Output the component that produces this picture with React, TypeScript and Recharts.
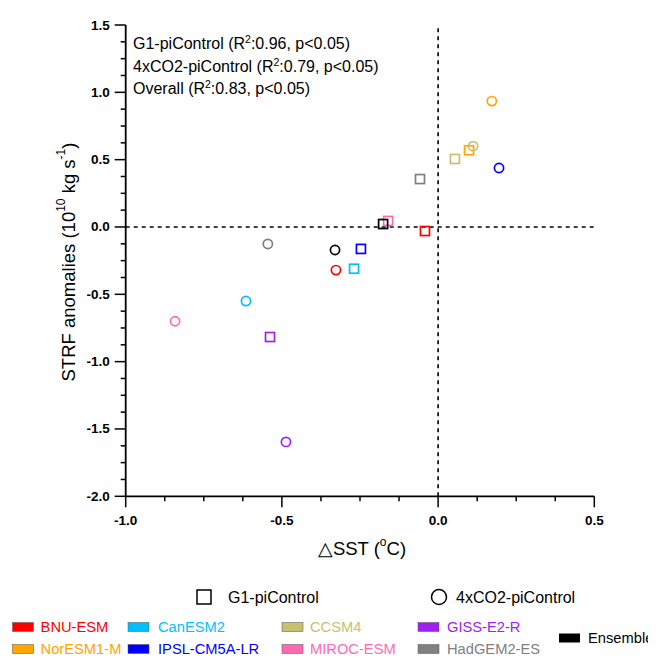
import React from "react";
import { ScatterChart, Scatter, XAxis, YAxis, ReferenceLine } from "recharts";

const models = ["BNU-ESM", "CanESM2", "CCSM4", "GISS-E2-R", "NorESM1-M", "IPSL-CM5A-LR", "MIROC-ESM", "HadGEM2-ES", "Ensemble"];
const colors = ["#ff0000", "#00bfff", "#c8c070", "#a020f0", "#ffa500", "#0000ff", "#ff69b4", "#808080", "#000000"];

// G1-piControl (squares)
const g1Sst = [-0.042, -0.269, 0.054, -0.538, 0.099, -0.247, -0.16, -0.058, -0.176];
const g1Strf = [-0.03, -0.31, 0.505, -0.817, 0.57, -0.163, 0.045, 0.356, 0.022];
// 4xCO2-piControl (circles)
const co2Sst = [-0.327, -0.615, 0.112, -0.487, 0.172, 0.195, -0.842, -0.545, -0.33];
const co2Strf = [-0.32, -0.55, 0.6, -1.596, 0.935, 0.438, -0.7, -0.126, -0.171];

const xTicks = [-1.0, -0.875, -0.75, -0.625, -0.5, -0.375, -0.25, -0.125, 0.0, 0.125, 0.25, 0.375, 0.5];
const yTicks = [
  1.5, 1.375, 1.25, 1.125, 1.0, 0.875, 0.75, 0.625, 0.5, 0.375, 0.25, 0.125, 0.0,
  -0.125, -0.25, -0.375, -0.5, -0.625, -0.75, -0.875, -1.0, -1.125, -1.25, -1.375,
  -1.5, -1.625, -1.75, -1.875, -2.0,
];

const statLabels = ["G1-piControl", "4xCO2-piControl", "Overall"];
const statR2 = ["0.96", "0.79", "0.83"];

const legendRow1 = [0, 1, 2, 3];
const legendRow2 = [4, 5, 6, 7];

const FONT = "Liberation Sans, Arial, Helvetica, sans-serif";
const W = 640;
const H = 651;

const g1Data = models.map((m, i) => ({ x: g1Sst[i], y: g1Strf[i], color: colors[i], name: m }));
const co2Data = models.map((m, i) => ({ x: co2Sst[i], y: co2Strf[i], color: colors[i], name: m }));

const isMajor = (v: number) => Math.abs(v * 2 - Math.round(v * 2)) < 1e-6;
const lab = (v: number) => v.toFixed(1);

function BottomTick(p: any) {
  const v = p.payload.value;
  const m = isMajor(v);
  return (
    <g>
      <line x1={p.x} x2={p.x} y1={p.y} y2={p.y + (m ? 11 : 5)} stroke="#000" strokeWidth={1.5} />
      {m && (
        <text x={p.x} y={p.y + 24} textAnchor="middle" dominantBaseline="central"
          fontFamily={FONT} fontSize={13.5} fontWeight="bold" fill="#000">{lab(v)}</text>
      )}
    </g>
  );
}

function TopTick(p: any) {
  const m = isMajor(p.payload.value);
  return <line x1={p.x} x2={p.x} y1={p.y} y2={p.y - (m ? 11 : 5)} stroke="#000" strokeWidth={1.5} />;
}

function LeftTick(p: any) {
  const v = p.payload.value;
  const m = isMajor(v);
  return (
    <g>
      <line x1={p.x} x2={p.x - (m ? 11 : 5)} y1={p.y} y2={p.y} stroke="#000" strokeWidth={1.5} />
      {m && (
        <text x={p.x - 16} y={p.y} textAnchor="end" dominantBaseline="central"
          fontFamily={FONT} fontSize={13.5} fontWeight="bold" fill="#000">{lab(v)}</text>
      )}
    </g>
  );
}

function RightTick(p: any) {
  const m = isMajor(p.payload.value);
  return <line x1={p.x} x2={p.x + (m ? 11 : 5)} y1={p.y} y2={p.y} stroke="#000" strokeWidth={1.5} />;
}

const square = (p: any) => (
  <rect x={p.cx - 4.5} y={p.cy - 4.5} width={9} height={9} fill="none" stroke={p.payload.color} strokeWidth={1.7} />
);
const circle = (p: any) => (
  <circle cx={p.cx} cy={p.cy} r={4.6} fill="none" stroke={p.payload.color} strokeWidth={1.7} />
);

export default function App() {
  const axisLine = { stroke: "#000", strokeWidth: 1.8 };
  return (
    <div style={{ position: "relative", width: W, height: H, fontFamily: FONT }}>
      <ScatterChart width={W} height={560} margin={{ top: 17, right: 53.7, left: 57.7, bottom: 31.7 }}>
        <XAxis xAxisId="b" type="number" dataKey="x" domain={[-1, 0.5]} ticks={xTicks} interval={0}
          height={40} tickSize={0} tickMargin={0} tickLine={false} axisLine={axisLine} tick={<BottomTick />} />
        <XAxis xAxisId="t" orientation="top" type="number" dataKey="x" domain={[-1, 0.5]} ticks={xTicks} interval={0}
          height={0} tickSize={0} tickMargin={0} tickLine={false} axisLine={axisLine} tick={<TopTick />} />
        <YAxis yAxisId="l" type="number" dataKey="y" domain={[-2, 1.5]} ticks={yTicks} interval={0}
          width={60} tickSize={0} tickMargin={0} tickLine={false} axisLine={axisLine} tick={<LeftTick />} />
        <YAxis yAxisId="r" orientation="right" type="number" dataKey="y" domain={[-2, 1.5]} ticks={yTicks} interval={0}
          width={0} tickSize={0} tickMargin={0} tickLine={false} axisLine={axisLine} tick={<RightTick />} />
        <ReferenceLine xAxisId="b" yAxisId="l" x={0} stroke="#000" strokeWidth={1.6} strokeDasharray="4 4" />
        <ReferenceLine xAxisId="b" yAxisId="l" y={0} stroke="#000" strokeWidth={1.6} strokeDasharray="4 4" />
        <Scatter xAxisId="b" yAxisId="l" data={g1Data} shape={square} isAnimationActive={false} />
        <Scatter xAxisId="b" yAxisId="l" data={co2Data} shape={circle} isAnimationActive={false} />
      </ScatterChart>

      <svg width={W} height={H} style={{ position: "absolute", left: 0, top: 0, pointerEvents: "none", overflow: "visible" }}
        fontFamily={FONT}>
        {statLabels.map((s, i) => (
          <text key={s} x={125} y={41 + i * 22.5} fontSize={16} fill="#000">
            {s} (R<tspan dy={-6} fontSize={10.5}>2</tspan><tspan dy={6}>:{statR2[i]}, p&lt;0.05)</tspan>
          </text>
        ))}

        <text x={354} y={540} textAnchor="middle" dominantBaseline="central" fontSize={18.5} fill="#000">
          △SST (<tspan dy={-6} fontSize={12}>o</tspan><tspan dy={6}>C)</tspan>
        </text>
        <text transform="translate(60,254) rotate(-90)" textAnchor="middle" dominantBaseline="central"
          fontSize={18.5} fill="#000">
          STRF anomalies (10<tspan dy={-7} fontSize={12}>10</tspan><tspan dy={7}> kg s</tspan>
          <tspan dy={-7} fontSize={12}>-1</tspan><tspan dy={7}>)</tspan>
        </text>

        <rect x={189} y={582} width={14} height={14} fill="none" stroke="#000" strokeWidth={1.5} />
        <text x={220} y={589} dominantBaseline="central" fontSize={16} fill="#000">G1-piControl</text>
        <circle cx={431} cy={589} r={7.5} fill="none" stroke="#000" strokeWidth={1.5} />
        <text x={448} y={589} dominantBaseline="central" fontSize={16} fill="#000">4xCO2-piControl</text>

        {[legendRow1, legendRow2].map((row, r) =>
          row.map((idx, c) => {
            const bx = [4.5, 120, 274, 410][c];
            const tx = [32.6, 150, 302, 439][c];
            const cy = 619 + r * 22;
            return (
              <g key={models[idx]}>
                <rect x={bx} y={cy - 4.5} width={21} height={9} fill={colors[idx]} stroke="#555" strokeWidth={0.5} />
                <text x={tx} y={cy} dominantBaseline="central" fontSize={14.7} fill={colors[idx]}>{models[idx]}</text>
              </g>
            );
          })
        )}
        <rect x={551} y={625.5} width={21} height={9} fill={colors[8]} />
        <text x={580} y={630} dominantBaseline="central" fontSize={14.7} fill="#000">{models[8]}</text>
      </svg>
    </div>
  );
}
